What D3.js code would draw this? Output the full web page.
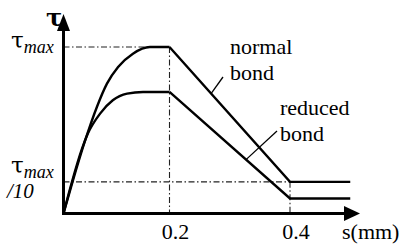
<!DOCTYPE html>
<html>
<head>
<meta charset="utf-8">
<script src="https://cdn.jsdelivr.net/npm/d3@7"></script>
</head>
<body style="margin:0;background:#fff">
<svg id="chart" width="401" height="244"></svg>
<script>
// bond-slip law, tau given as a fraction of tau_max (schematic)
const normalS   = [0, 0.017, 0.041, 0.063, 0.082, 0.103, 0.131, 0.163, 0.2, 0.4, 0.5];
const normalTau = [0, 0.19, 0.44, 0.64, 0.78, 0.88, 0.96, 1.0, 1.0, 0.19, 0.19];
const reducedS   = [0, 0.016, 0.034, 0.046, 0.069, 0.093, 0.12, 0.15, 0.2, 0.4, 0.5];
const reducedTau = [0, 0.19, 0.38, 0.48, 0.60, 0.68, 0.72, 0.73, 0.73, 0.09, 0.09];

const peakS = 0.2;        // end of plateau
const residualS = 0.4;    // start of residual branch
const residualTau = 0.19; // tau_max/10 marker level (as drawn)
const xTicks = [0.2, 0.4];

const SERIF = "Liberation Serif";
const svg = d3.select("#chart");

// schematic axis: 0.2 and 0.4 are not evenly spaced in the sketch
const x = d3.scaleLinear().domain([0, 0.2, 0.4]).range([63.5, 169.5, 290]);
const y = d3.scaleLinear().domain([0, 1]).range([213.5, 47]);

const toPts = (s, t) => s.map((v, i) => [v, t[i]]);
const normal = toPts(normalS, normalTau);
const reduced = toPts(reducedS, reducedTau);

// guide lines (dash-dot)
const guides = [
  [[0, 1], [peakS, 1]],
  [[peakS, 1], [peakS, 0]],
  [[0, residualTau], [residualS, residualTau]],
  [[residualS, residualTau], [residualS, 0]]
];
svg.selectAll(".guide")
  .data(guides)
  .enter().append("line")
  .attr("class", "guide")
  .attr("x1", d => x(d[0][0]))
  .attr("y1", d => y(d[0][1]))
  .attr("x2", d => x(d[1][0]))
  .attr("y2", d => y(d[1][1]))
  .attr("stroke", "#222")
  .attr("stroke-width", 1.1)
  .attr("stroke-dasharray", "6,2.5,1.5,2.5");

// curves: smooth rise up to the plateau, straight segments afterwards
const smooth = d3.line().x(d => x(d[0])).y(d => y(d[1])).curve(d3.curveMonotoneX);
const straight = d3.line().x(d => x(d[0])).y(d => y(d[1]));

[normal, reduced].forEach(pts => {
  const rise = pts.filter(d => d[0] <= peakS);
  const tail = pts.filter(d => d[0] >= peakS);
  svg.append("path").attr("d", smooth(rise))
    .attr("fill", "none").attr("stroke", "#000").attr("stroke-width", 2.4);
  svg.append("path").attr("d", straight(tail))
    .attr("fill", "none").attr("stroke", "#000").attr("stroke-width", 2.4)
    .attr("stroke-linejoin", "miter");
});

// axes with arrow heads
const x0 = x(0), y0 = y(0);
svg.append("line").attr("x1", x0).attr("y1", y0 + 1.5).attr("x2", x0).attr("y2", 28)
  .attr("stroke", "#000").attr("stroke-width", 3);
svg.append("path").attr("d", `M${x0 - 6.5},31 L${x0},14 L${x0 + 6.5},31 Z`).attr("fill", "#000");
svg.append("line").attr("x1", x0 - 1.5).attr("y1", y0).attr("x2", 347).attr("y2", y0)
  .attr("stroke", "#000").attr("stroke-width", 3);
svg.append("path").attr("d", `M344,${y0 - 7.5} L360,${y0} L344,${y0 + 7.5} Z`).attr("fill", "#000");

// tick labels
svg.selectAll(".tick")
  .data(xTicks)
  .enter().append("text")
  .attr("class", "tick")
  .attr("x", d => x(d) + 6)
  .attr("y", 239)
  .attr("text-anchor", "middle")
  .attr("font-family", SERIF)
  .attr("font-size", 22)
  .text(d => d3.format(".1f")(d));

svg.append("text").attr("x", 342).attr("y", 239).attr("font-family", SERIF)
  .attr("font-size", 22).text("s(mm)");

// y labels
svg.append("text").attr("x", 46).attr("y", 26).attr("font-size", 24)
  .attr("font-family", "DejaVu Serif").attr("font-weight", "bold").text("τ");

function tauLabel(xp, yp) {
  const t = svg.append("text").attr("x", xp).attr("y", yp);
  t.append("tspan").attr("font-size", 23).attr("font-family", "DejaVu Serif").text("τ");
  t.append("tspan").attr("font-size", 18).attr("font-family", SERIF)
    .attr("font-style", "italic").attr("dy", 5).text("max");
}
tauLabel(11, y(1) + 1);
tauLabel(11, 173);
svg.append("text").attr("x", 7).attr("y", 198).attr("font-size", 21)
  .attr("font-family", SERIF).attr("font-style", "italic").text("/10");

// annotations
const at = (pts, s) => {
  for (let i = 1; i < pts.length; i++) {
    const a = pts[i - 1], b = pts[i];
    if (s >= a[0] && s <= b[0]) return a[1] + (b[1] - a[1]) * (s - a[0]) / (b[0] - a[0]);
  }
  return 0;
};
const notes = [
  { lines: ["normal", "bond"], tx: 230, ty: 54, lx: 223, ly: 77, pts: normal, s: 0.269 },
  { lines: ["reduced", "bond"], tx: 280, ty: 115, lx: 277, ly: 131, pts: reduced, s: 0.327 }
];
notes.forEach(n => {
  n.lines.forEach((l, i) => {
    svg.append("text").attr("x", n.tx).attr("y", n.ty + i * 26)
      .attr("font-family", SERIF).attr("font-size", 22).text(l);
  });
  svg.append("line").attr("x1", n.lx).attr("y1", n.ly)
    .attr("x2", x(n.s)).attr("y2", y(at(n.pts, n.s)))
    .attr("stroke", "#000").attr("stroke-width", 1.3);
});
</script>
</body>
</html>
